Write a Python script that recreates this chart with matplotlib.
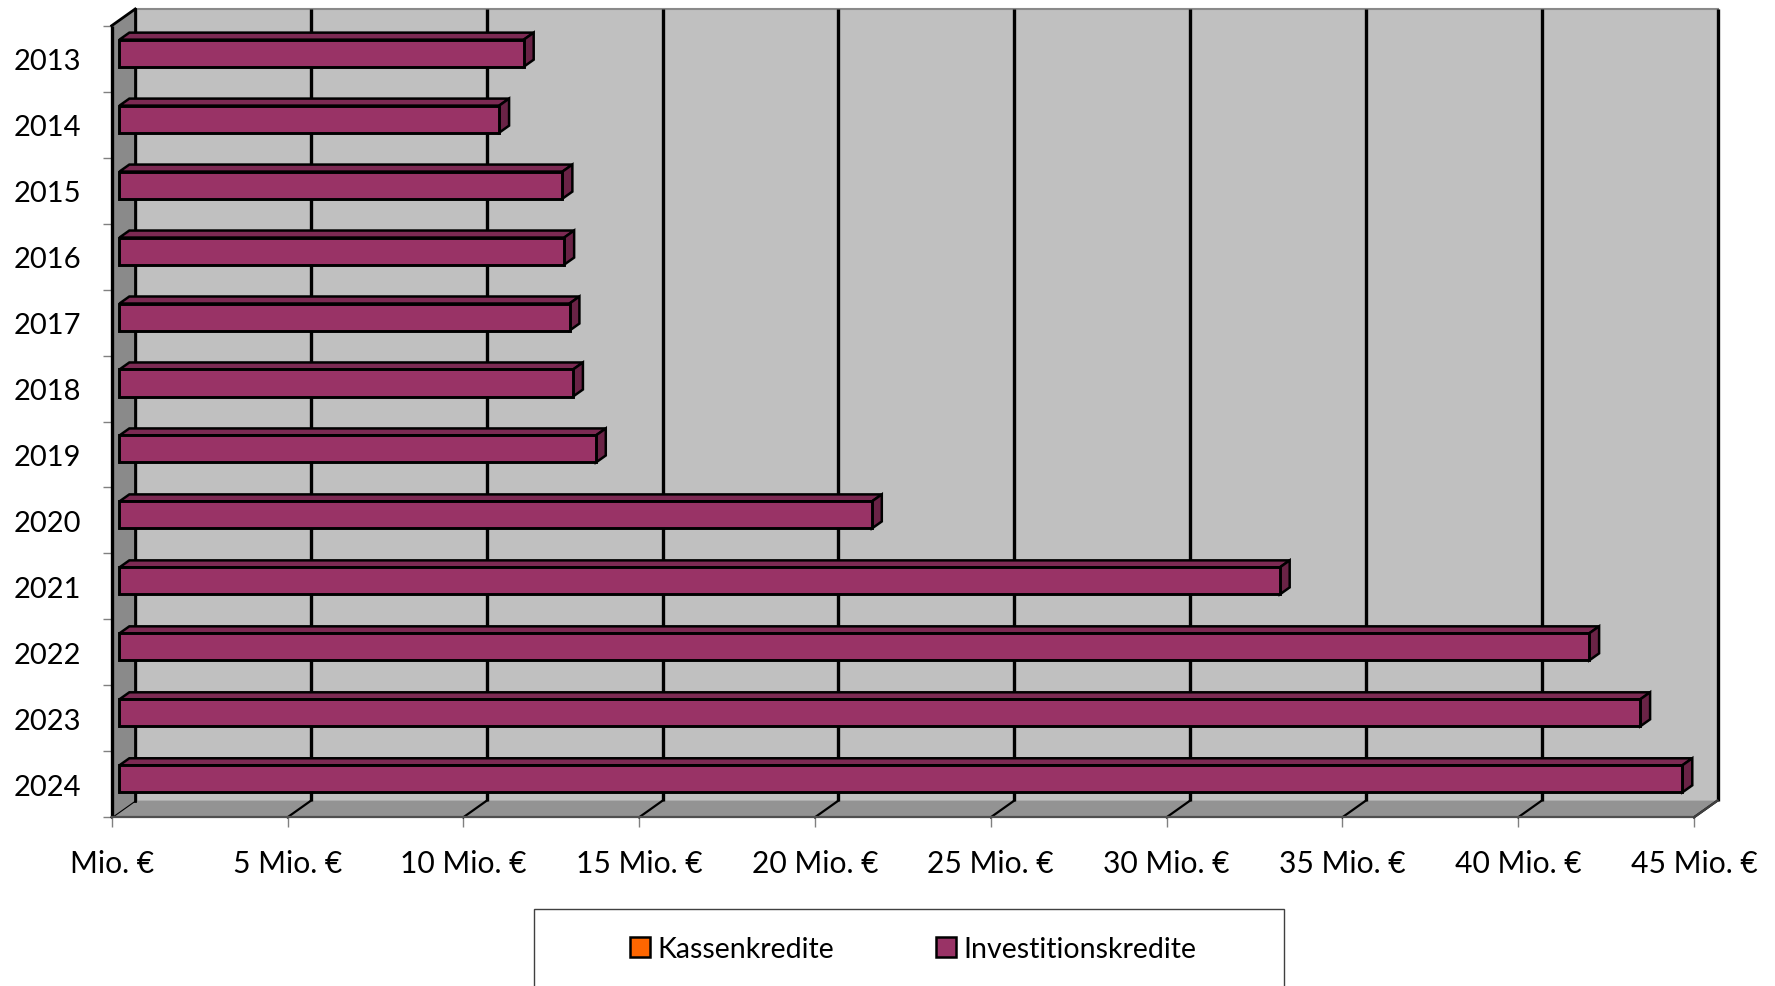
import matplotlib
matplotlib.use("Agg")
import matplotlib.pyplot as plt
from matplotlib.patches import Polygon, Rectangle, Patch

# --- data -------------------------------------------------------------
years = ["2013", "2014", "2015", "2016", "2017", "2018",
         "2019", "2020", "2021", "2022", "2023", "2024"]
kassenkredite = [0, 0, 0, 0, 0, 0, 0, 0, 0, 0, 0, 0]          # Mio. €
investitionskredite = [11.5, 10.8, 12.6, 12.65, 12.8, 12.9,
                       13.55, 21.4, 33.0, 41.8, 43.25, 44.45]  # Mio. €
x_ticks = [0, 5, 10, 15, 20, 25, 30, 35, 40, 45]
x_ticklabels = ["Mio. €", "5 Mio. €", "10 Mio. €", "15 Mio. €", "20 Mio. €",
                "25 Mio. €", "30 Mio. €", "35 Mio. €", "40 Mio. €", "45 Mio. €"]
series_names = ["Kassenkredite", "Investitionskredite"]

# --- style ------------------------------------------------------------
FONT = ["Lato", "DejaVu Sans"]
plt.rcParams["font.family"] = FONT
FS = 21.6
FS_Y = 21.0
FS_LEG = 20.5
C_KASSE = "#ff6600"
C_FRONT = "#993366"
C_TOP = "#7c2a53"
C_SIDE = "#6a2346"
C_BACK = "#c0c0c0"
C_LEFT = "#8a8a8a"
C_FLOOR = "#939393"

W, H = 1775, 987
fig = plt.figure(figsize=(W / 100, H / 100), dpi=100)

# front plane of the 3-D box in pixels
FX0, FX1 = 111.7, 1694.0
FY0, FY1 = 26.7, 818.3
ax = fig.add_axes([FX0 / W, 1 - FY1 / H, (FX1 - FX0) / W, (FY1 - FY0) / H])
n = len(years)
XMAX = x_ticks[-1]
ax.set_xlim(0, XMAX)
ax.set_ylim(n - 0.5, -0.5)
for s in ax.spines.values():
    s.set_visible(False)
ax.patch.set_visible(False)

# oblique depth vector (pixels -> data units)
DEPTH_PX = (23.5, 16.7)
DX = DEPTH_PX[0] * XMAX / (FX1 - FX0)
DY = -DEPTH_PX[1] * n / (FY1 - FY0)


def poly(pts, fc, ec="none", lw=0, z=1):
    p = Polygon(pts, closed=True, facecolor=fc, edgecolor=ec, linewidth=lw,
                zorder=z, clip_on=False, joinstyle="miter")
    ax.add_patch(p)


y_top, y_bot = -0.5, n - 0.5

# back wall
poly([(DX, y_top + DY), (XMAX + DX, y_top + DY),
      (XMAX + DX, y_bot + DY), (DX, y_bot + DY)], C_BACK, z=1)
ax.plot([DX, XMAX + DX], [y_top + DY, y_top + DY], color="#8a8a8a",
        lw=1.5, zorder=1.5, clip_on=False)
# floor
poly([(0, y_bot), (XMAX, y_bot), (XMAX + DX, y_bot + DY), (DX, y_bot + DY)],
     C_FLOOR, z=1)
# left wall
poly([(0, y_top), (0, y_bot), (DX, y_bot + DY), (DX, y_top + DY)], C_LEFT, z=3)

# gridlines: on the back wall and across the floor
for xv in x_ticks:
    ax.plot([xv + DX, xv + DX], [y_top + DY, y_bot + DY], color="black",
            lw=2.4, zorder=2, clip_on=False, solid_capstyle="butt")
    ax.plot([xv + DX, xv], [y_bot + DY, y_bot], color="black",
            lw=1.6, zorder=2, clip_on=False)

# edges of the box
ax.plot([0, 0], [y_top, y_bot], color="black", lw=2.4, zorder=3.5,
        clip_on=False, solid_capstyle="butt")
ax.plot([0, DX], [y_top, y_top + DY], color="black", lw=2.0, zorder=3.5,
        clip_on=False)
ax.plot([DX, DX], [y_top + DY, y_bot + DY], color="black", lw=2.0,
        zorder=3.5, clip_on=False)
ax.plot([0, XMAX], [y_bot, y_bot], color="#505050", lw=1.6, zorder=3.5,
        clip_on=False)
ax.plot([XMAX, XMAX + DX], [y_bot, y_bot + DY], color="#404040", lw=1.6,
        zorder=3.5, clip_on=False)

# --- 3-D bars -----------------------------------------------------------
D0, D1 = 0.33, 0.75          # depth slab occupied by the bars
BAR_H = 0.41
ypos = list(range(n))
front_y = [y + D0 * DY for y in ypos]

bars = ax.barh(front_y, investitionskredite, height=BAR_H, left=D0 * DX,
               color=C_FRONT, edgecolor="black", linewidth=2.1, zorder=6)
for rect, v in zip(bars.patches, investitionskredite):
    x0 = rect.get_x()
    x1 = x0 + rect.get_width()
    yt = rect.get_y()
    yb = yt + rect.get_height()
    ddx = (D1 - D0) * DX
    ddy = (D1 - D0) * DY
    # top face
    poly([(x0, yt), (x1, yt), (x1 + ddx, yt + ddy), (x0 + ddx, yt + ddy)],
         C_TOP, "black", 1.8, z=5)
    # right side face
    poly([(x1, yt), (x1 + ddx, yt + ddy), (x1 + ddx, yb + ddy), (x1, yb)],
         C_SIDE, "black", 1.8, z=5)

# Kassenkredite are all zero: nothing visible to draw
ax.barh(front_y, kassenkredite, height=BAR_H, left=D0 * DX,
        color=C_KASSE, linewidth=0, zorder=6)

# --- axes ticks and labels ----------------------------------------------
ax.set_xticks(x_ticks)
ax.set_xticklabels(x_ticklabels, fontsize=FS)
ax.tick_params(axis="x", direction="out", length=7, width=1.0,
               color="#808080", pad=16)
ax.set_yticks(ypos)
ax.set_yticklabels(years, fontsize=FS_Y)
for lbl in ax.get_yticklabels():
    lbl.set_va("center_baseline")
ax.tick_params(axis="y", which="major", length=0, pad=22)
ax.set_yticks([i - 0.5 for i in range(n + 1)], minor=True)
ax.tick_params(axis="y", which="minor", direction="out", length=6.5,
               width=1.0, color="#808080")

# --- legend -------------------------------------------------------------
LX0, LX1, LY0 = 534, 1284, 910
fig.add_artist(Rectangle((LX0 / W, -0.05), (LX1 - LX0) / W,
                         1 - LY0 / H + 0.05, transform=fig.transFigure,
                         facecolor="white", edgecolor="#404040", lw=1.0))
handles = [Patch(facecolor=C_KASSE, edgecolor="black", linewidth=1.8),
           Patch(facecolor=C_FRONT, edgecolor="black", linewidth=1.8)]
fig.legend(handles, series_names, loc="center",
           bbox_to_anchor=(((LX0 + LX1) / 2 + 4) / W, 1 - 950 / H),
           ncol=2, frameon=False, fontsize=FS_LEG, handlelength=0.7,
           handleheight=0.7, handletextpad=0.25, columnspacing=3.6)

fig.savefig("out.png", dpi=100)
